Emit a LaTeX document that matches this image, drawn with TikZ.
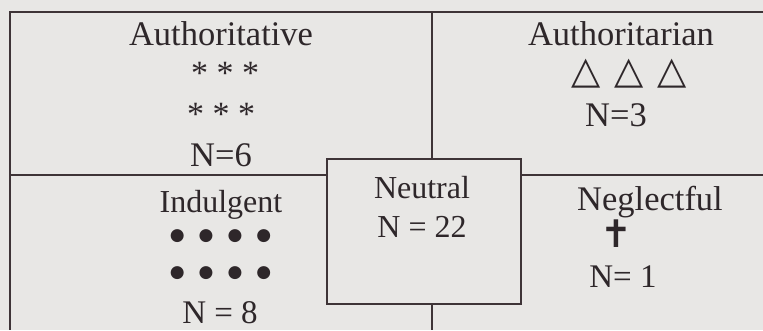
\documentclass[tikz,border=0pt]{standalone}
\usepackage{fontspec}
\setmainfont{Liberation Serif}
\newfontfamily\symfont{DejaVu Sans}
\newfontfamily\crossfont{DejaVu Sans}
\definecolor{paper}{HTML}{E8E7E5}
\definecolor{ink}{HTML}{2E272A}
\definecolor{rulecol}{HTML}{3E3437}
\begin{document}
\begin{tikzpicture}[x=1pt,y=-1pt,
  frame/.style={draw=rulecol, line width=1.7pt},
  lbl/.style={text=ink, font=\fontsize{33}{36}\selectfont, anchor=base, inner sep=0pt},
  biglbl/.style={lbl, font=\fontsize{34.5}{38}\selectfont},
  midlbl/.style={lbl, font=\fontsize{32}{36}\selectfont},
  sym/.style={text=ink, inner sep=0pt, anchor=center},
  dots/.style={sym, font=\symfont\fontsize{17}{19}\selectfont}]
\fill[paper] (0,0) rectangle (763,330);
\useasboundingbox (0,0) rectangle (763,330);
% frame coordinates
\coordinate (tl) at (10,12);
\coordinate (tr) at (763,12);
\coordinate (bl) at (10,330);
\coordinate (midtop) at (432,12);
\coordinate (midbot) at (432,330);
\coordinate (lmid) at (10,175);
\coordinate (rmid) at (763,175);
% neutral box
\node[frame, fill=paper, minimum width=194pt, minimum height=145pt, inner sep=0pt, anchor=north west] (neutral) at (326,158) {};
\draw[frame] (tr) -- (tl) -- (bl);
\draw[frame] (midtop) -- (midtop |- neutral.north);
\draw[frame] (midbot |- neutral.south) -- (midbot);
\draw[frame] (lmid) -- (lmid -| neutral.west);
\draw[frame] (rmid -| neutral.east) -- (rmid);
% Authoritative
\node[biglbl] (auth) at (221,45) {Authoritative};
\node[lbl, font=\fontsize{34}{36}\selectfont] (authA) at (225,84) {* * *};
\node[lbl, font=\fontsize{34}{36}\selectfont] (authB) at (221,125) {* * *};
\node[biglbl] (authN) at (221,166) {N=6};
% Authoritarian
\node[biglbl] (autt) at (621,45) {Authoritarian};
\node[sym, font=\symfont\fontsize{38}{40}\selectfont] (tri) at (629,74) {△\hspace{14pt}△\hspace{14pt}△};
\node[biglbl] (auttN) at (616,126) {N=3};
% Indulgent
\node[midlbl] (indu) at (221,212) {Indulgent};
\node[dots] (dotA) at (220.5,236) {●\hspace{14pt}●\hspace{14pt}●\hspace{14pt}●};
\node[dots] (dotB) at (220.5,273) {●\hspace{14pt}●\hspace{14pt}●\hspace{14pt}●};
\node[lbl] (induN) at (220,323.5) {N = 8};
% Neutral
\node[midlbl] (neut) at (422,198) {Neutral};
\node[midlbl] (neutN) at (422,237) {N = 22};
% Neglectful
\node[biglbl] (negl) at (650,210) {Neglectful};
\node[sym, font=\crossfont\fontsize{38}{40}\selectfont] (cross) at (616,234) {✝};
\node[lbl] (neglN) at (623,287) {N= 1};
\end{tikzpicture}
\end{document}
